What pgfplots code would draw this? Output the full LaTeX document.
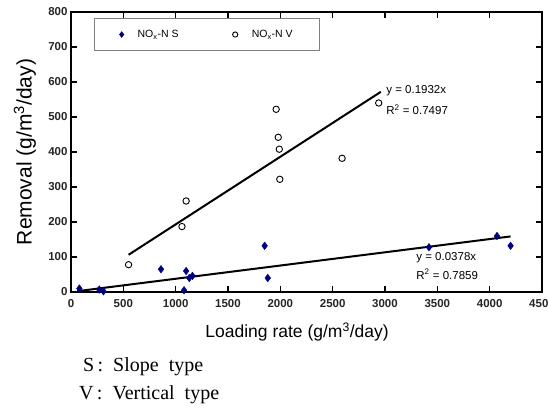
\documentclass[border=0pt]{standalone}
\usepackage{pgfplots}
\pgfplotsset{compat=1.18}
\usepackage{fontspec}
\setmainfont{Liberation Sans}
\newfontfamily\timesfont{Liberation Serif}
\definecolor{sblue}{RGB}{0,0,128}

\begin{document}
\begin{tikzpicture}
\begin{axis}[
    at={(0pt,0pt)}, anchor=origin,
    scale only axis,
    width=471pt, height=280pt,
    xmin=0, xmax=4500, ymin=0, ymax=800,
    xtick={0,500,...,4500},
    ytick={0,100,...,800},
    scaled x ticks=false,
    /pgf/number format/1000 sep={},
    /pgf/number format/assume math mode=true,
    tick label style={font=\fontsize{11.5}{13}\selectfont\bfseries, text=black!85},
    xticklabel style={yshift=-4pt},
    axis line style={line width=2.4pt},
    tick style={black, line width=1.2pt},
    major tick length=6pt,
    tick align=inside,
    every axis y label/.style={at={(axis description cs:-0.098,0.5)}, anchor=center, rotate=90,
        font=\fontsize{21}{24}\selectfont},
    every axis x label/.style={at={(axis description cs:0.48,-0.143)}, anchor=center,
        font=\fontsize{17.5}{20}\selectfont},
    ylabel={Removal (g/m\textsuperscript{3}/day)},
    xlabel={Loading rate (g/m\textsuperscript{3}/day)},
    legend style={at={(rel axis cs:0.0495,0.978)}, anchor=north west,
        draw=gray, line width=0.9pt, font=\fontsize{10.5}{12}\selectfont,
        inner xsep=25pt, inner ysep=9.5pt},
    legend image post style={mark size=2.6pt},
    legend columns=2,
    legend cell align=left,
    /tikz/every odd column/.append style={column sep=12pt},
    /tikz/every even column/.append style={column sep=52pt},
]
% NOx-N S (slope type)
\addplot[only marks, mark=diamond*, mark size=3.8pt, color=sblue] coordinates {
    (80,10) (270,7) (310,2) (860,65) (1080,5) (1100,60) (1130,40) (1160,46)
    (1850,132) (1880,40) (3420,128) (4070,160) (4200,132)
};
\addlegendentry{NO\textsubscript{x}-N S}
% NOx-N V (vertical type)
\addplot[only marks, mark=o, mark size=3.2pt, black, line width=0.9pt] coordinates {
    (550,78) (1060,187) (1100,260) (1960,522) (1980,442) (1990,408)
    (1995,322) (2590,382) (2940,540)
};
\addlegendentry{NO\textsubscript{x}-N V}
% trend lines
\addplot[black, line width=2pt, forget plot] coordinates {(550,106.3) (2960,571.9)};
\addplot[black, line width=2pt, forget plot] coordinates {(60,2.3) (4200,158.8)};
\node[anchor=west, font=\fontsize{11.5}{13}\selectfont, inner sep=0pt] at (axis cs:3011,574) {y = 0.1932x};
\node[anchor=west, font=\fontsize{11.5}{13}\selectfont, inner sep=0pt] at (axis cs:3011,520) {R\textsuperscript{2} = 0.7497};
\node[anchor=west, font=\fontsize{11.5}{13}\selectfont, inner sep=0pt] at (axis cs:3298,97) {y = 0.0378x};
\node[anchor=west, font=\fontsize{11.5}{13}\selectfont, inner sep=0pt] at (axis cs:3298,51) {R\textsuperscript{2} = 0.7859};
\end{axis}
\node[anchor=west, inner sep=0pt, font=\timesfont\fontsize{20}{22}\selectfont] at (12pt,-75pt) {S\,:\ \ Slope\ \ type};
\node[anchor=west, inner sep=0pt, font=\timesfont\fontsize{20}{22}\selectfont] at (8pt,-103pt) {V\,:\ \ Vertical\ \ type};
\pgfresetboundingbox
\path[use as bounding box] (-71pt,-117pt) rectangle (477pt,292pt);
\end{tikzpicture}
\end{document}
